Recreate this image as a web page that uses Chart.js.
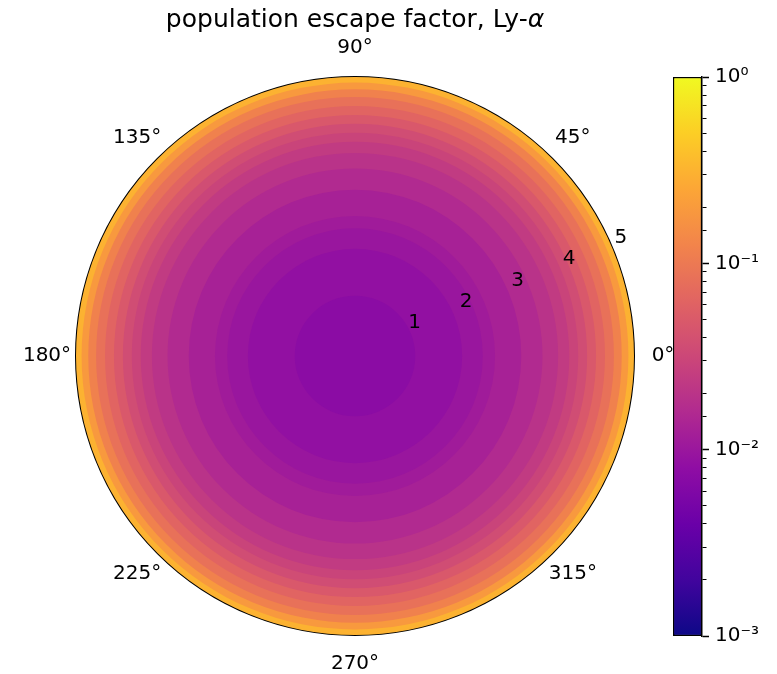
<!DOCTYPE html>
<html>
<head>
<meta charset="utf-8">
<script src="https://cdn.jsdelivr.net/npm/chart.js@4.4.1/dist/chart.umd.min.js"></script>
<style>
body { margin: 0; background: #fff; }
#wrap { position: relative; width: 777px; height: 674px; }
canvas { position: absolute; left: 0; top: 0; }
</style>
</head>
<body>
<div id="wrap">
<canvas id="polar" width="777" height="674"></canvas>
<canvas id="cbar" width="777" height="674"></canvas>
</div>
<script>
// angle labels, clockwise from the top (matplotlib counts anticlockwise from the right)
const thetaLabels = ['90°', '45°', '0°', '315°', '270°', '225°', '180°', '135°'];
const radialTicks = [1, 2, 3, 4, 5];

// outer radius of each filled band, from the centre out
const bandRadius = [1.08, 1.92, 2.29, 2.51, 2.98, 3.36, 3.64, 3.84, 4.00, 4.16, 4.32, 4.48, 4.64, 4.78, 4.90, 5.00];
// escape factor in each band
const bandValue = [0.0074, 0.0085, 0.0098, 0.0112, 0.0129, 0.0158, 0.0195, 0.0240,
                   0.0295, 0.0363, 0.0479, 0.0631, 0.0832, 0.117, 0.191, 0.309];

// colorbar
const cbarRange = [0.001, 1];
const cbarMajor = [0.001, 0.01, 0.1, 1];

// plasma colormap, 11 stops
const plasma = [[13,8,135],[65,4,157],[106,0,168],[143,13,164],[177,42,144],[204,71,120],
                [225,100,98],[242,132,75],[252,166,54],[252,206,37],[240,249,33]];

function plasmaColor(t) {
  t = Math.min(1, Math.max(0, t));
  const i = Math.min(9, Math.floor(t * 10));
  const f = t * 10 - i;
  const a = plasma[i], b = plasma[i + 1];
  return 'rgb(' + a.map((c, k) => Math.round(c + (b[k] - c) * f)).join(',') + ')';
}
function logNorm(v) {
  return (Math.log10(v) - Math.log10(cbarRange[0])) / (Math.log10(cbarRange[1]) - Math.log10(cbarRange[0]));
}
function isMajor(v) {
  return cbarMajor.some(m => Math.abs(v / m - 1) < 1e-6);
}

const sup = {'-': '⁻', '0': '⁰', '1': '¹', '2': '²', '3': '³', '4': '⁴'};
function powLabel(v) {
  const e = Math.round(Math.log10(v));
  return '10' + String(e).split('').map(ch => sup[ch]).join('');
}

// labels round the polar axes + title
const polarText = {
  id: 'polarText',
  afterDraw(chart) {
    const ctx = chart.ctx;
    const r = chart.scales.r;
    ctx.save();
    ctx.fillStyle = '#000';
    ctx.textAlign = 'center';
    ctx.textBaseline = 'middle';
    ctx.font = '20px "DejaVu Sans"';
    thetaLabels.forEach((lab, i) => {
      const p = r.getPointPosition(i, r.drawingArea + 29);
      ctx.fillText(lab, p.x, p.y);
    });
    // radial tick labels sit at 22.5 deg
    radialTicks.forEach(v => {
      const p = r.getPointPosition(0, r.getDistanceFromCenterForValue(v), 3 * Math.PI / 8);
      ctx.fillText(String(v), p.x + 8, p.y - 11.5);
    });

    // title, alpha in italic like mathtext
    const t1 = 'population escape factor, Ly-';
    const t2 = 'α';
    ctx.textAlign = 'left';
    ctx.textBaseline = 'alphabetic';
    ctx.font = '25px "DejaVu Sans"';
    const w1 = ctx.measureText(t1).width;
    ctx.font = 'italic 25px "DejaVu Sans"';
    const w2 = ctx.measureText(t2).width;
    const x0 = r.xCenter - (w1 + w2) / 2;
    ctx.font = '25px "DejaVu Sans"';
    ctx.fillText(t1, x0, 27);
    ctx.font = 'italic 25px "DejaVu Sans"';
    ctx.fillText(t2, x0 + w1, 27);
    ctx.restore();
  }
};

const bands = bandRadius.map((rad, i) => ({
  data: [rad],
  backgroundColor: plasmaColor(logNorm(bandValue[i])),
  borderWidth: 0
}));

new Chart(document.getElementById('polar'), {
  type: 'polarArea',
  data: { labels: thetaLabels, datasets: bands },
  options: {
    responsive: false,
    animation: false,
    layout: { padding: { left: 76, top: 77, right: 143, bottom: 39 } },
    plugins: { legend: { display: false }, tooltip: { enabled: false } },
    scales: {
      r: {
        min: 0,
        max: 5,
        startAngle: 0,
        z: 1,
        ticks: { display: false, stepSize: 1 },
        pointLabels: { display: false },
        angleLines: { display: false },
        grid: {
          circular: true,
          lineWidth: 2,
          color: c => (c.tick && c.tick.value === 5) ? '#000' : 'rgba(0,0,0,0)'
        }
      }
    }
  },
  plugins: [polarText]
});

new Chart(document.getElementById('cbar'), {
  type: 'bar',
  data: {
    labels: ['escape factor'],
    datasets: [{
      data: [cbarRange],
      backgroundColor: c => {
        const a = c.chart.chartArea;
        if (!a) return null;
        const g = c.chart.ctx.createLinearGradient(0, a.bottom, 0, a.top);
        plasma.forEach((p, i) => g.addColorStop(i / 10, 'rgb(' + p.join(',') + ')'));
        return g;
      },
      borderColor: '#000',
      borderWidth: 1.5,
      borderSkipped: false,
      barPercentage: 1,
      categoryPercentage: 1
    }]
  },
  options: {
    responsive: false,
    animation: false,
    layout: { padding: { left: 673, right: 15, top: 77, bottom: 38 } },
    plugins: { legend: { display: false }, tooltip: { enabled: false } },
    scales: {
      x: { display: false },
      y: {
        type: 'logarithmic',
        position: 'right',
        min: cbarRange[0],
        max: cbarRange[1],
        afterFit: s => { s.width = 60; },
        border: { display: true, color: '#000', width: 1.5 },
        grid: {
          drawOnChartArea: false,
          tickLength: 7,
          tickColor: '#000',
          tickWidth: c => isMajor(c.tick.value) ? 1.5 : 1,
          // minor ticks: only the first 4px of the 7px tick is drawn
          tickBorderDash: c => isMajor(c.tick.value) ? [] : [4, 20]
        },
        ticks: {
          autoSkip: false,
          padding: 6,
          color: '#000',
          font: { family: 'DejaVu Sans', size: 20 },
          callback: v => isMajor(v) ? powLabel(v) : ''
        }
      }
    }
  }
});
</script>
</body>
</html>
